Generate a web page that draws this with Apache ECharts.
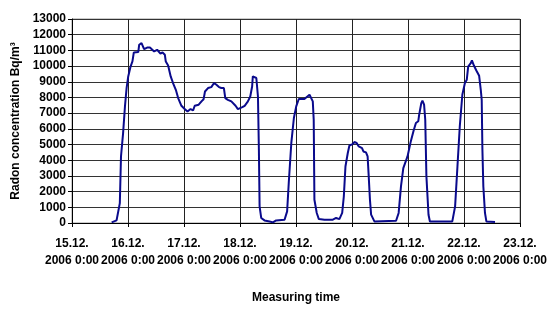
<!DOCTYPE html>
<html>
<head>
<meta charset="utf-8">
<script src="https://cdn.jsdelivr.net/npm/echarts@6/dist/echarts.min.js"></script>
<style>
html,body{margin:0;padding:0;background:#fff;}
#c{width:550px;height:309px;}
</style>
</head>
<body>
<div id="c"></div>
<script>
// hours since 15.12.2006 0:00
const hours = [17.0,19.1,20.5,21.0,21.9,22.7,23.4,24.1,25.1,25.9,26.5,28.4,28.8,29.8,30.5,30.9,32.2,33.4,35.2,36.5,37.3,37.9,38.8,39.8,40.2,41.2,42.3,43.3,44.5,45.5,46.9,48.3,49.5,50.8,51.9,52.6,53.3,54.3,55.5,56.4,57.0,58.3,59.7,60.9,61.9,63.0,64.0,65.1,65.7,66.8,68.3,69.0,70.1,71.1,71.8,73.0,74.0,75.4,76.4,77.2,77.5,78.2,79.0,79.7,80.1,80.4,81.1,82.5,84.7,86.1,87.5,91.1,92.2,92.9,94.0,95.1,96.1,97.2,99.6,100.4,101.8,102.5,103.2,103.6,103.9,104.9,105.8,108.2,111.8,113.2,114.6,115.8,116.5,117.2,118.2,118.9,120.3,121.0,122.0,122.9,123.6,124.3,124.9,126.0,126.7,127.1,127.7,128.2,129.6,138.9,140.0,141.0,142.0,143.8,145.2,146.4,147.4,148.4,148.8,149.7,150.2,150.9,151.4,151.9,152.8,153.4,163.0,164.2,165.2,166.2,167.3,168.4,169.2,169.8,170.9,171.4,171.9,172.3,173.3,174.5,175.2,175.6,175.9,176.3,177.0,177.6,181.3];
const radon = [40,165,1270,4240,5730,7430,8600,9340,9970,10300,10870,10890,11360,11460,11360,11080,11180,11180,10930,11040,11040,10790,10870,10720,10290,10040,9340,8920,8490,7960,7470,7260,7110,7260,7170,7470,7380,7540,7750,7890,8380,8600,8660,8920,8810,8660,8600,8600,7960,7850,7750,7640,7470,7260,7220,7380,7470,7750,8060,8700,9340,9300,9240,8060,4670,1060,320,165,100,40,165,210,740,2550,5100,6690,7430,7900,7900,7920,8170,8060,7750,6580,1480,640,250,210,210,320,250,640,1690,3600,4460,4940,5030,5160,5100,4880,4990,4770,4560,4500,4240,3180,1480,530,100,140,640,2330,3500,4240,5200,5880,6370,6480,6900,7640,7790,7540,6580,2970,530,100,100,1060,3600,6150,8170,8920,9130,9970,10190,10360,10400,10020,9720,9380,8490,7850,4670,2330,640,100,60];
const dayLabels = ['15.12.','16.12.','17.12.','18.12.','19.12.','20.12.','21.12.','22.12.','23.12.'];
const timeLabel = '2006 0:00';

const chart = echarts.init(document.getElementById('c'));
const font = 'Liberation Sans, Arial, sans-serif';
chart.setOption({
  animation:false,
  grid:{left:72,right:29,top:19,bottom:86,show:true,borderColor:'#999',borderWidth:1},
  xAxis:{
    type:'value',min:0,max:192,interval:24,
    name:'Measuring time',nameLocation:'middle',nameGap:69,
    nameTextStyle:{fontFamily:font,fontWeight:'bold',fontSize:12,color:'#000'},
    axisLine:{show:true,onZero:false,lineStyle:{color:'#000',width:1}},
    axisTick:{show:true,length:4,lineStyle:{color:'#000'}},
    axisLabel:{fontFamily:font,fontWeight:'bold',fontSize:12,color:'#000',margin:12,lineHeight:17,
      formatter:v=>dayLabels[Math.round(v/24)]+'\n'+timeLabel},
    splitLine:{show:true,lineStyle:{color:'#222',width:1}}
  },
  yAxis:{
    type:'value',min:0,max:13000,interval:1000,
    name:'Radon concentration Bq/m³',nameLocation:'middle',nameGap:44,
    nameTextStyle:{fontFamily:font,fontWeight:'bold',fontSize:12,color:'#000'},
    axisLine:{show:true,lineStyle:{color:'#000',width:1}},
    axisTick:{show:true,length:4,lineStyle:{color:'#000'}},
    axisLabel:{fontFamily:font,fontWeight:'bold',fontSize:12,color:'#000',margin:6,
      formatter:v=>String(v)},
    splitLine:{show:true,lineStyle:{color:'#333',width:1}}
  },
  series:[{
    type:'line',data:hours.map((h,i)=>[h,radon[i]]),
    showSymbol:false,smooth:false,
    lineStyle:{color:'#0a0a8c',width:2},
    itemStyle:{color:'#0a0a8c'}
  }]
});
</script>
</body>
</html>
